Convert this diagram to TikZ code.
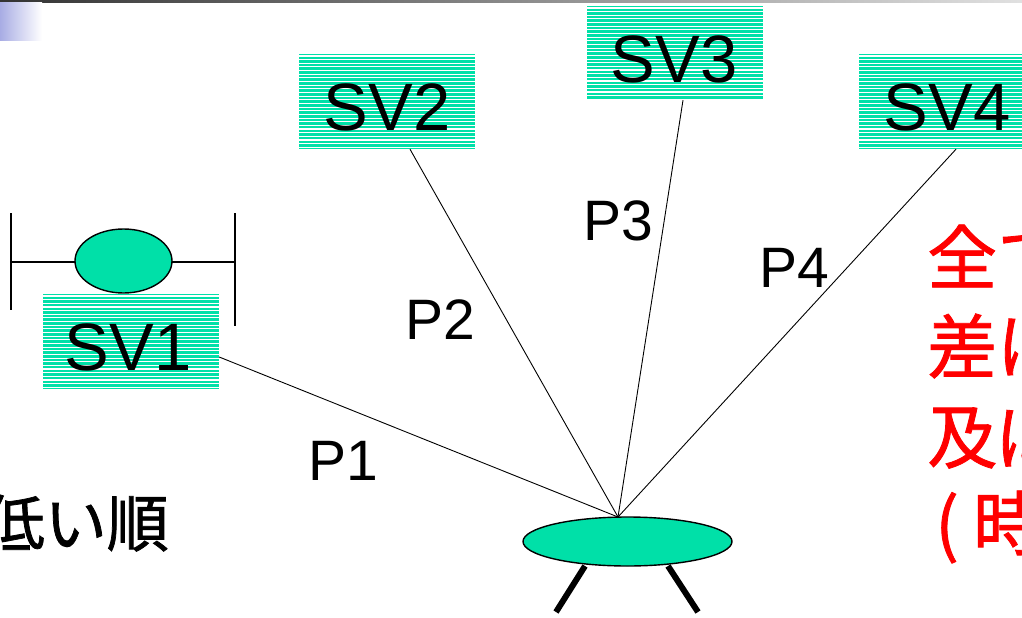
\documentclass[tikz,border=0pt]{standalone}
\usepackage{fontspec}
\setmainfont{Liberation Sans}
\newfontfamily\jpfont{Noto Sans CJK JP}[FakeBold=1.2]
\usetikzlibrary{shapes.geometric,calc}
\definecolor{padgreen}{RGB}{0,224,168}
\definecolor{slidered}{RGB}{255,0,0}
\tikzset{
  stripebox/.style={
    fill=padgreen, minimum width=176pt, minimum height=95pt, inner sep=0pt,
    path picture={
      \foreach \k in {0,...,26}{
        \draw[white,line width=1.1pt]
          ([yshift={-2pt-\k*3.65pt}]path picture bounding box.north west)
          -- ([yshift={-2pt-\k*3.65pt}]path picture bounding box.north east);
      }
    }},
  svlabel/.style={inner sep=0pt, font=\fontsize{67}{72}\selectfont},
  plabel/.style={inner sep=0pt, font=\fontsize{57}{62}\selectfont},
  redline/.style={inner sep=0pt, anchor=west, text=slidered,
    font=\jpfont\fontsize{70}{74}\selectfont},
  pipe/.style={line width=0.9pt},
  bar/.style={line width=1.5pt},
  greenoval/.style={ellipse, draw, line width=1.4pt, fill=padgreen, inner sep=0pt}
}
\begin{document}
\begin{tikzpicture}[x=1pt,y=-1pt]
\useasboundingbox (0,0) rectangle (1022,618);
\clip (0,0) rectangle (1022,618);
\fill[white] (0,0) rectangle (1022,618);

% slide header decoration
\shade[left color=black!80, right color=black!12] (0,0) rectangle (1022,3);
\shade[left color={rgb,255:red,168;green,172;blue,228}, right color=white] (0,3) rectangle (42,41);

% the four pressure sources
\node[stripebox] (sv1) at (131,341.5) {};
\node[stripebox] (sv2) at (387,101.5) {};
\node[stripebox, minimum height=94pt] (sv3) at (675,53) {};
\node[stripebox] (sv4) at (947,101.5) {};
\node[svlabel] (sv1t) at (128,347) {SV1};
\node[svlabel] (sv2t) at (387,107.5) {SV2};
\node[svlabel] (sv3t) at (674,59.5) {SV3};
\node[svlabel] (sv4t) at (947,107.5) {SV4};

% valve symbol above SV1
\coordinate (barL) at (11,262);
\coordinate (barR) at (235,262);
\draw[bar] (11,213) -- (11,310);
\draw[bar] (235,213) -- (235,326);
\draw[bar] (barL) -- (barR);
\node[greenoval, minimum width=97pt, minimum height=64pt] (valve) at (123.5,261) {};

% collecting tank with legs
\node[greenoval, minimum width=209pt, minimum height=49pt] (tank) at (627.5,541.5) {};
\coordinate (hub) at (618,517);
\draw[line width=6pt] (585,566) -- (556,612);
\draw[line width=6pt] (668,566) -- (698,612);

% pipes
\draw[pipe] ([yshift=-15.5pt]sv1.east) -- (hub);
\draw[pipe] ([xshift=23pt]sv2.south) -- (hub);
\draw[pipe] ([xshift=8pt]sv3.south) -- (hub);
\draw[pipe] ([xshift=9pt]sv4.south) -- (hub);

\node[plabel] (p1) at (343,461) {P1};
\node[plabel] (p2) at (440,320) {P2};
\node[plabel] (p3) at (618,221) {P3};
\node[plabel] (p4) at (794,268) {P4};

% text
\node[inner sep=0pt, anchor=east, font=\jpfont\fontsize{62}{64}\selectfont] (order) at (169,523) {低い順};
\node[redline] (r1) at (927,256) {全ての};
\node[redline] (r2) at (927,346) {差は};
\node[redline] (r3) at (927,437) {及ぼ};
\node[redline] (r4) at (927,527) {\hspace{8pt}(\hspace{14pt}時};
\end{tikzpicture}
\end{document}
